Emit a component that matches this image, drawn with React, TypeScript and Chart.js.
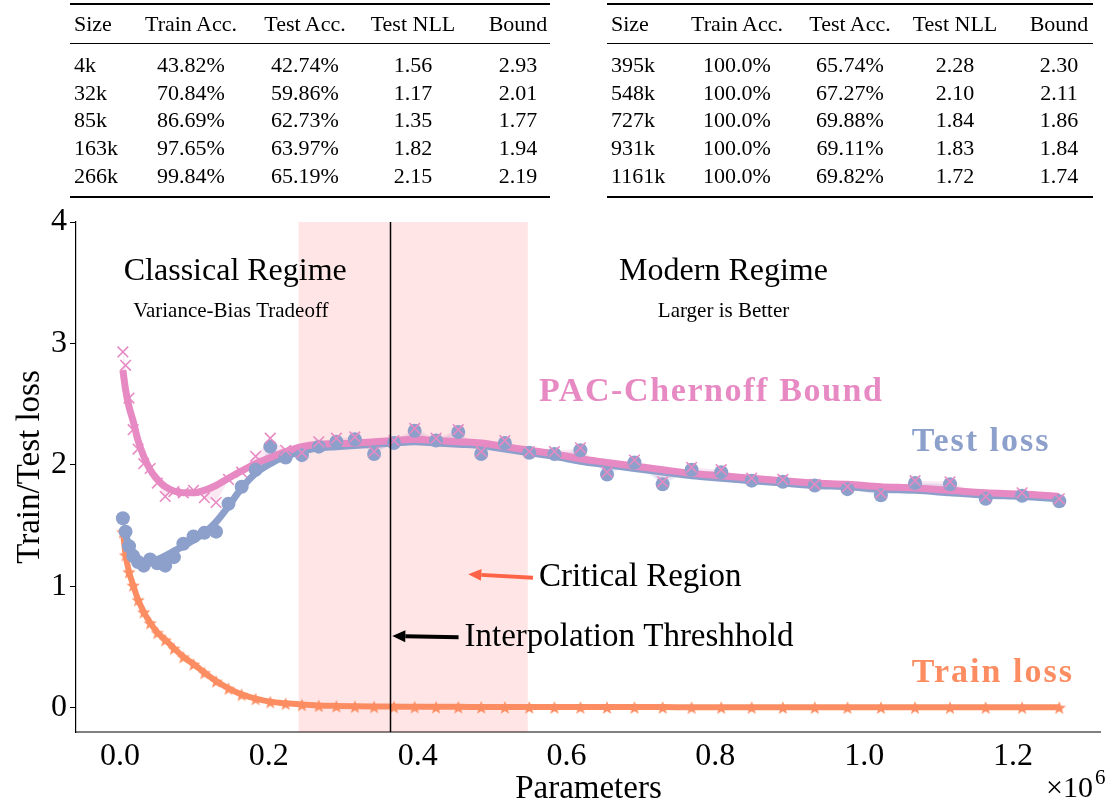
import React, { useEffect, useRef } from "react";
import { Chart, registerables } from "chart.js";

Chart.register(...registerables);

// ---------------- data ----------------
// model sizes (parameters, x 10^6)
const params = [
  0.004, 0.0076, 0.0122, 0.0178, 0.0244, 0.032, 0.0406, 0.0503, 0.0609, 0.0725,
  0.0852, 0.0989, 0.1135, 0.1292, 0.1459, 0.1636, 0.1823, 0.202, 0.2227, 0.2445,
  0.2672, 0.2909, 0.3157, 0.3415, 0.3682, 0.396, 0.4248, 0.4546, 0.4854, 0.5172,
  0.55, 0.5838, 0.6187, 0.6545, 0.6913, 0.7292, 0.7681, 0.8079, 0.8488, 0.8907,
  0.9336, 0.9775, 1.0224, 1.0683, 1.1153, 1.1632, 1.2121, 1.2621,
];

const trainLoss = [
  1.45, 1.26, 1.12, 1.01, 0.89, 0.79, 0.7, 0.62, 0.56, 0.49,
  0.42, 0.36, 0.29, 0.22, 0.16, 0.11, 0.075, 0.05, 0.036, 0.026,
  0.019, 0.015, 0.012, 0.01, 0.009, 0.008, 0.007, 0.007, 0.006, 0.006,
  0.006, 0.005, 0.005, 0.005, 0.005, 0.005, 0.004, 0.004, 0.004, 0.004,
  0.004, 0.004, 0.004, 0.004, 0.004, 0.004, 0.004, 0.004,
];

const testLoss = [
  1.56, 1.45, 1.33, 1.25, 1.2, 1.17, 1.22, 1.19, 1.17, 1.24,
  1.35, 1.41, 1.44, 1.45, 1.68, 1.82, 1.96, 2.15, 2.06, 2.08,
  2.15, 2.19, 2.21, 2.09, 2.18, 2.28, 2.2, 2.27, 2.09, 2.18,
  2.1, 2.09, 2.12, 1.92, 2.02, 1.84, 1.96, 1.94, 1.87, 1.86,
  1.83, 1.8, 1.75, 1.85, 1.84, 1.72, 1.745, 1.7,
];

const testLossSmooth = [
  1.47, 1.42, 1.34, 1.28, 1.23, 1.2, 1.2, 1.22, 1.25, 1.29,
  1.33, 1.38, 1.44, 1.53, 1.66, 1.81, 1.93, 2.01, 2.07, 2.11,
  2.14, 2.15, 2.16, 2.17, 2.18, 2.19, 2.18, 2.17, 2.16, 2.13,
  2.1, 2.07, 2.03, 2.0, 1.97, 1.94, 1.91, 1.89, 1.87, 1.85,
  1.83, 1.82, 1.8, 1.79, 1.77, 1.75, 1.74, 1.72,
];

const bound = [
  2.93, 2.82, 2.55, 2.29, 2.13, 2.01, 1.97, 1.85, 1.74, 1.78,
  1.77, 1.79, 1.73, 1.69, 1.88, 1.94, 2.07, 2.22, 2.12, 2.1,
  2.19, 2.22, 2.23, 2.11, 2.2, 2.3, 2.22, 2.29, 2.11, 2.2,
  2.11, 2.11, 2.14, 1.94, 2.04, 1.86, 1.98, 1.96, 1.89, 1.88,
  1.84, 1.82, 1.77, 1.87, 1.86, 1.74, 1.77, 1.72,
];

const boundSmooth = [
  2.78, 2.62, 2.48, 2.36, 2.2, 2.07, 1.96, 1.88, 1.82, 1.785,
  1.77, 1.77, 1.79, 1.83, 1.89, 1.95, 2.01, 2.06, 2.11, 2.15,
  2.17, 2.175, 2.18, 2.19, 2.2, 2.21, 2.2, 2.19, 2.18, 2.15,
  2.12, 2.09, 2.05, 2.02, 1.99, 1.96, 1.93, 1.91, 1.89, 1.87,
  1.85, 1.84, 1.82, 1.81, 1.79, 1.77, 1.76, 1.74,
];

const xTicks = [0, 0.2, 0.4, 0.6, 0.8, 1.0, 1.2];
const yTicks = [0, 1, 2, 3, 4];
const criticalRegion = [0.24, 0.548];
const interpolationThreshold = 0.363;

// tables
const tableHeader = ["Size", "Train Acc.", "Test Acc.", "Test NLL", "Bound"];
const tableLeftRows = [
  ["4k", "43.82%", "42.74%", "1.56", "2.93"],
  ["32k", "70.84%", "59.86%", "1.17", "2.01"],
  ["85k", "86.69%", "62.73%", "1.35", "1.77"],
  ["163k", "97.65%", "63.97%", "1.82", "1.94"],
  ["266k", "99.84%", "65.19%", "2.15", "2.19"],
];
const tableRightRows = [
  ["395k", "100.0%", "65.74%", "2.28", "2.30"],
  ["548k", "100.0%", "67.27%", "2.10", "2.11"],
  ["727k", "100.0%", "69.88%", "1.84", "1.86"],
  ["931k", "100.0%", "69.11%", "1.83", "1.84"],
  ["1161k", "100.0%", "69.82%", "1.72", "1.74"],
];

// ---------------- styles ----------------
const FONT = '"Liberation Serif", "Times New Roman", serif';
const ORANGE = "#fc8d62";
const BLUE = "#8da0cb";
const PINK = "#e78ac3";

function pts(ys: number[]) {
  return params.map((x, i) => ({ x, y: ys[i] }));
}

function makeStar(color: string, r: number) {
  const c = document.createElement("canvas");
  const s = Math.ceil(r * 2 + 2);
  c.width = s;
  c.height = s;
  const ctx = c.getContext("2d")!;
  ctx.beginPath();
  for (let i = 0; i < 10; i++) {
    const rad = i % 2 === 0 ? r : r * 0.42;
    const a = -Math.PI / 2 + (i * Math.PI) / 5;
    ctx.lineTo(s / 2 + rad * Math.cos(a), s / 2 + 1 + rad * Math.sin(a));
  }
  ctx.closePath();
  ctx.fillStyle = color;
  ctx.fill();
  return c;
}

function drawArrow(ctx: CanvasRenderingContext2D, x0: number, y0: number, x1: number, y1: number, color: string) {
  const ang = Math.atan2(y1 - y0, x1 - x0);
  const headLen = 13;
  const headW = 6;
  const bx = x1 - headLen * Math.cos(ang);
  const by = y1 - headLen * Math.sin(ang);
  ctx.save();
  ctx.strokeStyle = color;
  ctx.fillStyle = color;
  ctx.lineWidth = 4;
  ctx.beginPath();
  ctx.moveTo(x0, y0);
  ctx.lineTo(bx, by);
  ctx.stroke();
  ctx.beginPath();
  ctx.moveTo(x1, y1);
  ctx.lineTo(bx - headW * Math.sin(ang), by + headW * Math.cos(ang));
  ctx.lineTo(bx + headW * Math.sin(ang), by - headW * Math.cos(ang));
  ctx.closePath();
  ctx.fill();
  ctx.restore();
}

const overlayPlugin = {
  id: "overlay",
  beforeDatasetsDraw(chart: any) {
    const { ctx, chartArea, scales } = chart;
    const x0 = scales.x.getPixelForValue(criticalRegion[0]);
    const x1 = scales.x.getPixelForValue(criticalRegion[1]);
    ctx.save();
    ctx.fillStyle = "rgba(255,0,0,0.1)";
    ctx.fillRect(x0, chartArea.top, x1 - x0, chartArea.bottom - chartArea.top);
    ctx.restore();
  },
  afterDatasetsDraw(chart: any) {
    const { ctx, chartArea, scales } = chart;
    const xv = Math.round(scales.x.getPixelForValue(interpolationThreshold)) + 0.5;
    ctx.save();
    ctx.strokeStyle = "#000";
    ctx.lineWidth = 1.5;
    ctx.beginPath();
    ctx.moveTo(xv, chartArea.top);
    ctx.lineTo(xv, chartArea.bottom);
    ctx.stroke();
    ctx.restore();
  },
  afterDraw(chart: any) {
    const { ctx, chartArea, scales } = chart;
    const X = (v: number) => scales.x.getPixelForValue(v);
    const Y = (v: number) => scales.y.getPixelForValue(v);
    ctx.save();
    ctx.textBaseline = "middle";

    const text = (s: string, x: number, y: number, size: number, align: CanvasTextAlign, color = "#000", bold = false, spacing = 0) => {
      ctx.font = `${bold ? "bold " : ""}${size}px ${FONT}`;
      ctx.fillStyle = color;
      ctx.textAlign = align;
      (ctx as any).letterSpacing = `${spacing}px`;
      ctx.fillText(s, x, y);
      (ctx as any).letterSpacing = "0px";
    };

    text("Classical Regime", X(0.155), Y(3.59), 32, "center");
    text("Variance-Bias Tradeoff", X(0.149), Y(3.26), 21, "center");
    text("Modern Regime", X(0.811), Y(3.59), 32, "center");
    text("Larger is Better", X(0.811), Y(3.26), 21, "center");

    text("PAC-Chernoff Bound", X(0.563), Y(2.6), 34, "left", PINK, true, 1.6);
    text("Test loss", X(1.064), Y(2.19), 34, "left", BLUE, true, 2);
    text("Train loss", X(1.064), Y(0.28), 34, "left", ORANGE, true, 2);

    drawArrow(ctx, X(0.555), Y(1.07), X(0.468), Y(1.1), "#ff6347");
    text("Critical Region", X(0.563), Y(1.07), 33, "left");
    drawArrow(ctx, X(0.455), Y(0.58), X(0.366), Y(0.59), "#000");
    text("Interpolation Threshhold", X(0.463), Y(0.58), 33, "left");

    // axis titles
    text("Parameters", (chartArea.left + chartArea.right) / 2, 789, 33, "center");
    text("\u00d710", 1093, 789, 30, "right");
    text("6", 1095, 778, 21, "left");

    ctx.save();
    ctx.translate(30, (chartArea.top + chartArea.bottom) / 2 - 10);
    ctx.rotate(-Math.PI / 2);
    text("Train/Test loss", 0, 0, 33, "center");
    ctx.restore();

    ctx.restore();
  },
};

function TableBlock({ left, right, centers, rows }: { left: number; right: number; centers: number[]; rows: string[][] }) {
  const rowY = [65, 93, 120, 148, 176];
  const cell = (s: string, ci: number, y: number, key: string) => (
    <div
      key={key}
      style={{
        position: "absolute",
        left: ci === 0 ? left + 4 : centers[ci],
        top: y,
        transform: ci === 0 ? "translate(0,-50%)" : "translate(-50%,-50%)",
        whiteSpace: "nowrap",
        fontSize: 22,
        lineHeight: "24px",
        fontFamily: FONT,
        color: "#000",
      }}
    >
      {s}
    </div>
  );
  return (
    <>
      <div style={{ position: "absolute", left, top: 3, width: right - left, height: 2, background: "#000" }} />
      <div style={{ position: "absolute", left, top: 43, width: right - left, height: 1, background: "#000" }} />
      <div style={{ position: "absolute", left, top: 196, width: right - left, height: 2, background: "#000" }} />
      {tableHeader.map((h, ci) => cell(h, ci, 24, `h${ci}`))}
      {rows.map((r, ri) => r.map((s, ci) => cell(s, ci, rowY[ri], `r${ri}c${ci}`)))}
    </>
  );
}

export default function App() {
  const ref = useRef<HTMLCanvasElement>(null);

  useEffect(() => {
    const star = makeStar(ORANGE, 7);
    const tickFont = { family: FONT, size: 32 };
    const chart = new Chart(ref.current!, {
      type: "line",
      data: {
        datasets: [
          // markers (top)
          {
            data: pts(bound), showLine: false, pointStyle: "crossRot", pointRadius: 7.5,
            borderColor: PINK, pointBorderColor: PINK, pointBorderWidth: 1.6, backgroundColor: PINK, order: 0,
          },
          {
            data: pts(testLoss), showLine: false, pointStyle: "circle", pointRadius: 7,
            pointBackgroundColor: BLUE, pointBorderWidth: 0, borderColor: BLUE, order: 1,
          },
          // smooth lines
          {
            data: pts(boundSmooth), borderColor: PINK, borderWidth: 7, pointRadius: 0,
            cubicInterpolationMode: "monotone", fill: false, order: 2,
          },
          {
            data: pts(testLossSmooth), borderColor: BLUE, borderWidth: 7, pointRadius: 0,
            cubicInterpolationMode: "monotone", fill: false, order: 3,
          },
          // raw bands (fill between raw and smooth)
          {
            data: pts(bound), borderWidth: 0, borderColor: "rgba(0,0,0,0)", pointRadius: 0,
            fill: 2, backgroundColor: "rgba(231,138,195,0.2)", order: 4,
          },
          {
            data: pts(testLoss), borderWidth: 0, borderColor: "rgba(0,0,0,0)", pointRadius: 0,
            fill: 3, backgroundColor: "rgba(141,160,203,0.22)", order: 5,
          },
          // train
          {
            data: pts(trainLoss), showLine: false, pointStyle: star as any, pointRadius: 7, order: 6,
          },
          {
            data: pts(trainLoss), borderColor: ORANGE, borderWidth: 6, pointRadius: 0,
            cubicInterpolationMode: "monotone", fill: false, order: 7,
          },
        ],
      },
      options: {
        responsive: false,
        animation: false,
        devicePixelRatio: 1,
        layout: { padding: { left: 0, right: 3, top: 222, bottom: 0 } },
        plugins: { legend: { display: false }, tooltip: { enabled: false } },
        scales: {
          x: {
            type: "linear",
            min: -0.059,
            max: 1.318,
            afterBuildTicks: (s: any) => {
              s.ticks = xTicks.map((v) => ({ value: v }));
            },
            afterFit: (s: any) => {
              s.height = 73;
            },
            ticks: {
              callback: (v: any) => Number(v).toFixed(1),
              font: tickFont,
              color: "#000",
              padding: 5,
              maxRotation: 0,
              autoSkip: false,
            },
            grid: { drawOnChartArea: false, drawTicks: false, color: "#000" },
            border: { display: true, color: "#808080", width: 2 },
          },
          y: {
            type: "linear",
            min: -0.2,
            max: 4,
            afterBuildTicks: (s: any) => {
              s.ticks = yTicks.map((v) => ({ value: v }));
            },
            afterFit: (s: any) => {
              s.width = 76;
            },
            ticks: { font: tickFont, color: "#000", padding: 3 },
            grid: { drawOnChartArea: false, drawTicks: true, tickLength: 6, color: "#000" },
            border: { display: true, color: "#000", width: 1.2 },
          },
        },
      },
      plugins: [overlayPlugin],
    } as any);
    return () => chart.destroy();
  }, []);

  return (
    <div style={{ position: "absolute", left: 0, top: 0, width: 1110, height: 805, background: "#fff", overflow: "hidden" }}>
      <canvas ref={ref} width={1110} height={805} style={{ position: "absolute", left: 0, top: 0, width: 1110, height: 805 }} />
      <TableBlock left={70} right={550} centers={[0, 191, 305, 413, 518]} rows={tableLeftRows} />
      <TableBlock left={607} right={1093} centers={[0, 737, 850, 955, 1059]} rows={tableRightRows} />
    </div>
  );
}
